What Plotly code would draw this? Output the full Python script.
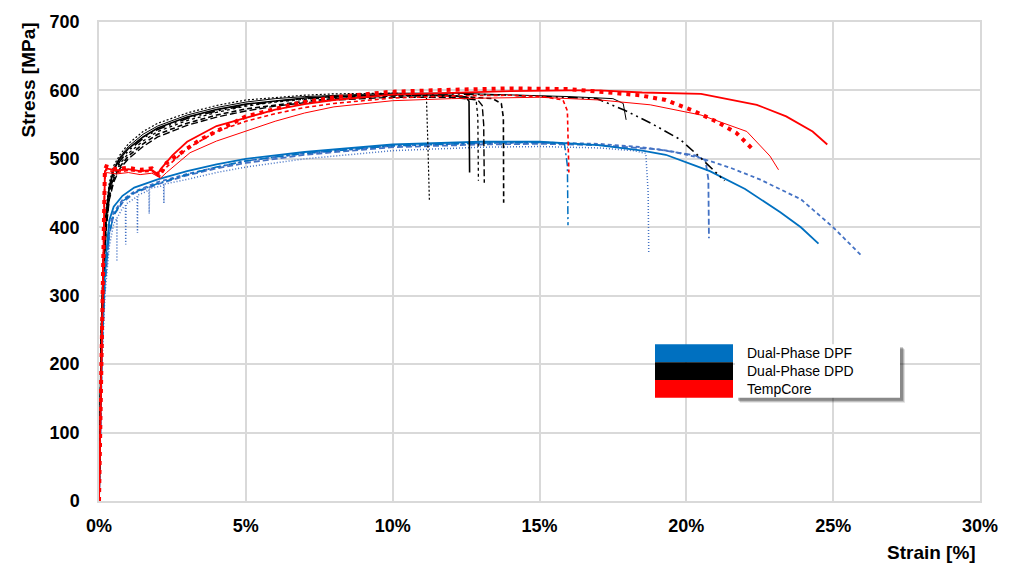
import plotly.graph_objects as go

# ---------------- DATA ----------------
x_ticks = [0, 5, 10, 15, 20, 25, 30]
x_tick_labels = ["0%", "5%", "10%", "15%", "20%", "25%", "30%"]
y_ticks = [0, 100, 200, 300, 400, 500, 600, 700]

legend_names = ["Dual-Phase DPF", "Dual-Phase DPD", "TempCore"]

# Dual-Phase DPF (blue)
dpf1_strain = [0, 0.1, 0.2, 0.35, 0.5, 0.8, 1.2, 2, 3, 4, 5, 7, 10, 13, 15, 17, 18.5, 19.3, 20.3, 20.8, 22.0, 23.2, 23.9, 24.5]
dpf1_stress = [0, 240, 340, 410, 430, 446, 458, 470, 482, 492, 500, 510, 521, 525, 525, 520, 512, 506, 490, 482, 456, 422, 400, 376]

dpf2_strain = [0, 0.1, 0.2, 0.35, 0.5, 0.8, 1.2, 2, 3, 4, 5, 7, 10, 13, 15, 17, 18.5, 19.5, 20.5, 21.5, 22.5, 23.9, 25.0, 26.0]
dpf2_stress = [0, 225, 330, 400, 422, 440, 452, 466, 478, 488, 497, 508, 519, 523, 524, 522, 517, 511, 501, 487, 470, 441, 400, 357]

dpf3_strain = [0, 0.1, 0.2, 0.35, 0.5, 0.6, 0.61, 0.62, 0.8, 0.9, 0.91, 0.92, 1.2, 1.3, 1.31, 1.32, 1.6, 1.7, 1.71, 1.72,
               2.1, 2.2, 2.21, 2.22, 3, 4, 5, 7, 10, 13, 15, 17, 18.2, 18.62, 18.7, 18.72]
dpf3_stress = [0, 200, 300, 372, 405, 412, 350, 414, 428, 432, 375, 434, 442, 445, 392, 447, 452, 455, 420, 457,
               460, 462, 435, 463, 470, 480, 488, 500, 512, 517, 518, 516, 512, 508, 450, 363]

dpf4_strain = [0, 0.1, 0.2, 0.35, 0.5, 0.8, 1.2, 2, 3, 4, 5, 7, 10, 13, 15, 17, 19, 20.3, 20.65, 20.75, 20.77]
dpf4_stress = [0, 215, 318, 390, 418, 436, 450, 463, 476, 486, 494, 506, 517, 521, 522, 520, 514, 505, 498, 470, 384]

dpf5_strain = [0, 0.1, 0.2, 0.35, 0.5, 0.8, 1.2, 2, 3, 4, 5, 7, 10, 13, 15, 15.85, 15.95, 15.97]
dpf5_stress = [0, 215, 318, 390, 418, 438, 451, 464, 477, 488, 497, 508, 519, 523, 524, 522, 490, 403]

# Dual-Phase DPD (black)
dpd1_strain = [0, 0.08, 0.15, 0.25, 0.35, 0.5, 0.7, 1, 1.5, 2, 3, 4, 5, 6, 7, 8, 9, 10, 11, 11.15, 11.2, 11.25]
dpd1_stress = [0, 260, 360, 430, 465, 490, 505, 522, 540, 552, 567, 578, 586, 590, 593, 595, 596, 596, 594, 590, 520, 439]

dpd2_strain = [0, 0.08, 0.15, 0.25, 0.35, 0.5, 0.7, 1, 1.5, 2, 3, 4, 5, 6, 7, 8, 10, 12, 12.5, 12.6, 12.62]
dpd2_stress = [0, 250, 350, 420, 458, 483, 500, 515, 532, 545, 561, 572, 580, 585, 589, 591, 594, 593, 590, 584, 480]

dpd3_strain = [0, 0.08, 0.15, 0.25, 0.35, 0.5, 0.7, 1, 1.5, 2, 3, 4, 5, 6, 7, 8, 10, 12, 12.7, 12.85, 12.9, 12.92]
dpd3_stress = [0, 240, 340, 410, 448, 474, 492, 508, 526, 540, 556, 568, 577, 583, 587, 590, 593, 592, 589, 583, 560, 468]

dpd4_strain = [0, 0.08, 0.15, 0.25, 0.35, 0.5, 0.7, 1, 1.5, 2, 3, 4, 5, 6, 7, 8, 10, 12, 12.9, 13.05, 13.1, 13.12]
dpd4_stress = [0, 230, 330, 400, 440, 466, 485, 500, 518, 532, 549, 561, 570, 577, 582, 586, 590, 590, 586, 578, 550, 465]

dpd5_strain = [0, 0.08, 0.15, 0.25, 0.35, 0.5, 0.7, 1, 1.5, 2, 3, 4, 5, 6, 7, 8, 10, 12, 13.4, 13.7, 13.77, 13.78]
dpd5_stress = [0, 235, 335, 405, 444, 470, 488, 504, 522, 536, 552, 564, 573, 579, 584, 588, 592, 592, 588, 581, 560, 436]

dpd6_strain = [0, 0.08, 0.15, 0.25, 0.35, 0.5, 0.7, 1, 1.5, 2, 3, 4, 5, 6, 7, 8, 10, 12, 14, 16, 17.5, 17.85, 17.95]
dpd6_stress = [0, 255, 355, 425, 460, 486, 502, 518, 536, 548, 564, 575, 583, 588, 591, 593, 596, 596, 594, 591, 588, 581, 557]

dpd7_strain = [0, 0.08, 0.15, 0.25, 0.35, 0.5, 0.7, 1, 1.5, 2, 3, 4, 5, 6, 7, 8, 10, 12, 14, 16, 16.95, 17.9, 18.8, 19.8, 20.5, 21.3]
dpd7_stress = [0, 245, 345, 415, 452, 478, 496, 512, 530, 543, 559, 570, 578, 584, 588, 591, 594, 595, 593, 590, 588, 571, 552, 528, 501, 468]

# TempCore (red)
tc1_strain = [0, 0.05, 0.1, 0.15, 0.2, 0.25, 0.6, 1.0, 1.4, 1.8, 2.0, 2.1, 2.5, 3, 4, 5, 6, 7, 8, 10, 12, 14, 16, 17, 18.5, 20.5, 22.4, 23.4, 24.3, 24.8]
tc1_stress = [0, 120, 250, 380, 480, 486, 483, 485, 482, 484, 478, 485, 505, 525, 548, 560, 572, 580, 586, 594, 597, 599, 600, 600, 597, 595, 579, 562, 540, 521]

tc2_strain = [0, 0.05, 0.1, 0.15, 0.2, 0.25, 0.6, 1.0, 1.4, 1.8, 2.1, 2.3, 3.1, 4, 5, 6, 7, 8, 10, 12, 15, 17.06, 18.77, 20.5, 22.06, 22.85, 23.14]
tc2_stress = [0, 110, 240, 370, 470, 480, 478, 480, 477, 479, 472, 480, 509, 526, 540, 555, 567, 576, 585, 588, 590, 586, 579, 564, 540, 504, 484]

tc3_strain = [0, 0.05, 0.1, 0.15, 0.2, 0.25, 0.6, 1.0, 1.4, 1.8, 2.05, 2.3, 3.44, 5, 6.73, 8, 9.9, 12, 14, 16, 17.06, 18.4, 19.3, 20.2, 21.0, 21.7, 22.26]
tc3_stress = [0, 130, 260, 390, 484, 489, 485, 487, 484, 486, 475, 494, 528, 562, 581, 590, 598, 601, 603, 602, 598, 593, 586, 571, 555, 538, 514]

tc4_strain = [0, 0.05, 0.1, 0.15, 0.2, 0.25, 0.6, 1.0, 1.4, 1.8, 2.05, 2.3, 3, 4, 5, 6, 7, 8, 10, 12, 14, 15.1, 15.8, 15.95, 16.0]
tc4_stress = [0, 125, 255, 385, 482, 484, 480, 483, 481, 482, 474, 488, 515, 540, 555, 566, 575, 581, 589, 592, 593, 591, 586, 570, 480]

# ---------------- STYLE ----------------
BLUE = "#0070C0"
BLUE2 = "#4472C4"
BLACK = "#000000"
RED = "#FF0000"

fig = go.Figure()

def add(xs, ys, color, width, dash):
    fig.add_trace(go.Scatter(x=xs, y=ys, mode="lines",
                             line=dict(color=color, width=width, dash=dash),
                             showlegend=False, hoverinfo="skip"))

add(dpf2_strain, dpf2_stress, BLUE2, 1.8, "4px,3px")
add(dpf3_strain, dpf3_stress, BLUE2, 1.5, "1px,2px")
add(dpf4_strain, dpf4_stress, BLUE2, 1.8, "6px,3px")
add(dpf5_strain, dpf5_stress, BLUE, 1.5, "8px,3px,2px,3px")
add(dpf1_strain, dpf1_stress, BLUE, 1.8, "solid")

add(dpd1_strain, dpd1_stress, BLACK, 1.2, "2px,2px")
add(dpd2_strain, dpd2_stress, BLACK, 1.6, "solid")
add(dpd3_strain, dpd3_stress, BLACK, 1.3, "3px,3px")
add(dpd4_strain, dpd4_stress, BLACK, 1.4, "7px,3px")
add(dpd5_strain, dpd5_stress, BLACK, 1.6, "5px,3px")
add(dpd6_strain, dpd6_stress, BLACK, 1.0, "solid")
add(dpd7_strain, dpd7_stress, BLACK, 1.6, "10px,4px,2px,4px,2px,4px")

add(tc2_strain, tc2_stress, RED, 1.0, "solid")
add(tc4_strain, tc4_stress, RED, 1.6, "4px,3px")
add(tc1_strain, tc1_stress, RED, 1.8, "solid")
add(tc3_strain, tc3_stress, RED, 4, "4px,5px")

FONT = "Liberation Sans, Arial, sans-serif"

fig.update_xaxes(range=[0, 30], tickvals=x_ticks, ticktext=x_tick_labels,
                 showgrid=True, gridcolor="#d9d9d9", gridwidth=1.5,
                 zeroline=False, showline=True, linecolor="#d9d9d9", linewidth=1.5, mirror=True,
                 ticks="outside", ticklen=8, tickcolor="rgba(0,0,0,0)",
                 tickfont=dict(family=FONT, size=18, color="black", weight="bold"))
fig.update_yaxes(range=[0, 700], tickvals=y_ticks,
                 showgrid=True, gridcolor="#d9d9d9", gridwidth=1.5,
                 zeroline=False, showline=True, linecolor="#d9d9d9", linewidth=1.5, mirror=True,
                 ticks="outside", ticklen=14, tickcolor="rgba(0,0,0,0)",
                 tickfont=dict(family=FONT, size=18, color="black", weight="bold"))

# ----- legend (drawn as in the original: colour bars + shadowed box) -----
def px_x(p):
    return (p - 99) / 881.0

def px_y(p):
    return (501 - p) / 483.0

shapes = []
for off, op in [(5, 0.12), (4, 0.18), (3, 0.25)]:
    shapes.append(dict(type="rect", xref="paper", yref="paper",
                       x0=px_x(735 + off), x1=px_x(900 + off),
                       y0=px_y(397 + off), y1=px_y(343 + off),
                       fillcolor=f"rgba(0,0,0,{op})", line=dict(width=0), layer="above"))
shapes.append(dict(type="rect", xref="paper", yref="paper",
                   x0=px_x(735), x1=px_x(900), y0=px_y(397), y1=px_y(343),
                   fillcolor="white", line=dict(width=0), layer="above"))
legend_colors = [BLUE, BLACK, RED]
for i, c in enumerate(legend_colors):
    top = 343 + 18 * i
    shapes.append(dict(type="rect", xref="paper", yref="paper",
                       x0=px_x(655), x1=px_x(733), y0=px_y(top + 18), y1=px_y(top),
                       fillcolor=c, line=dict(width=0), layer="above"))

annotations = []
for i, name in enumerate(legend_names):
    annotations.append(dict(text=name, xref="paper", yref="paper",
                            x=px_x(745), y=px_y(352 + 18 * i), xanchor="left", yanchor="middle",
                            showarrow=False, font=dict(family=FONT, size=14, color="black")))
annotations.append(dict(text="Stress [MPa]", xref="paper", yref="paper",
                        x=px_x(29), y=px_y(77), xanchor="center", yanchor="middle",
                        textangle=-90, showarrow=False,
                        font=dict(family=FONT, size=19, color="black", weight="bold")))
annotations.append(dict(text="Strain [%]", xref="paper", yref="paper",
                        x=px_x(978), y=px_y(553), xanchor="right", yanchor="middle",
                        showarrow=False,
                        font=dict(family=FONT, size=19, color="black", weight="bold")))

fig.update_layout(width=1014, height=568,
                  margin=dict(l=99, r=34, t=18, b=67),
                  paper_bgcolor="white", plot_bgcolor="white",
                  shapes=shapes, annotations=annotations, showlegend=False)

fig.write_html("out.html")
